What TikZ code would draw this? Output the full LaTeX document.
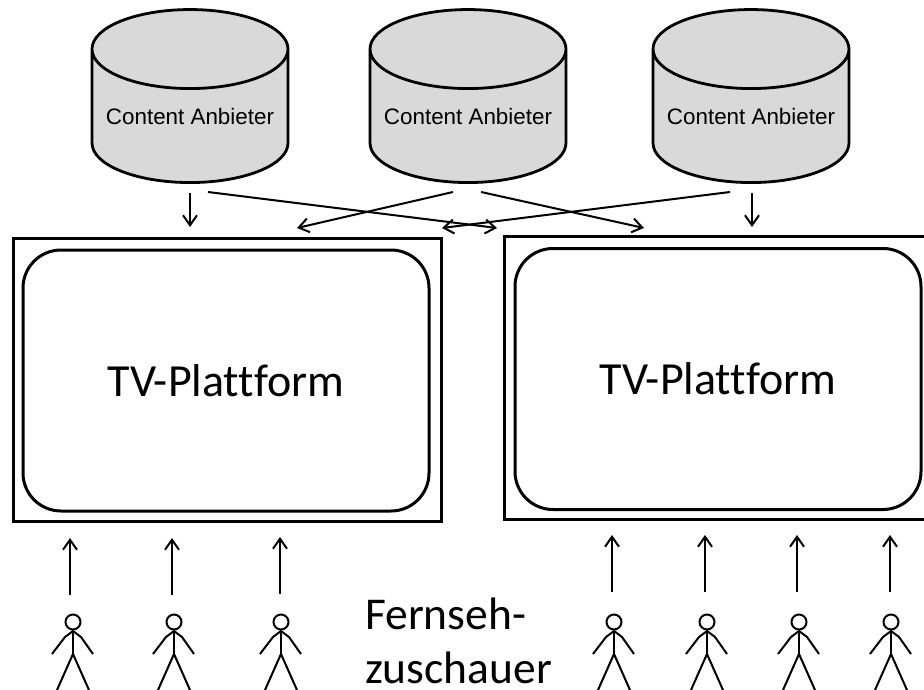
\documentclass[tikz,border=0pt]{standalone}
\usepackage{fontspec}
\setmainfont[Ligatures=CommonOff]{Carlito}
\newfontfamily\labelfont{Liberation Sans}
\usetikzlibrary{shapes.geometric, arrows.meta}
\definecolor{storegray}{gray}{0.85}
\tikzset{
	store/.style={draw, line width=2.8pt, fill=storegray, cylinder, shape border rotate=90, aspect=0.47, minimum width=196pt, minimum height=173pt, inner sep=0pt, font=\labelfont\fontsize{22.4}{26}\selectfont},
	screen/.style={draw, line width=3pt, minimum width=428pt, minimum height=283pt},
	panel/.style={draw, line width=3pt, rounded corners=38pt, minimum width=406pt, minimum height=261pt, font=\fontsize{46}{50}\selectfont},
	flow/.style={->, >={Straight Barb[length=10pt,width=14pt,line width=2pt]}, line width=2pt},
	limb/.style={line width=2pt},
}
\begin{document}
\begin{tikzpicture}[x=1pt, y=-1pt]
	\useasboundingbox (0,0) rectangle (924,690);

	\node[store] (storeA) at (190,116.5) {Content Anbieter};
	\node[store] (storeB) at (468,116.5) {Content Anbieter};
	\node[store] (storeC) at (751,116.5) {Content Anbieter};

	\node[screen] (screenL) at (227,379.5) {};
	\node[screen] (screenR) at (718,377.5) {};
	\node[panel] (panelL) at (226,380.5) {TV-Plattform};
	\node[panel] (panelR) at (718,379) {TV-Plattform};

	% free ends of the arrows below the stores
	\coordinate (a1) at (190,193);
	\coordinate (b1) at (190,227);
	\coordinate (a2) at (208,192);
	\coordinate (b2) at (497,228);
	\coordinate (a3) at (453,192);
	\coordinate (b3) at (297,228);
	\coordinate (a4) at (481,192);
	\coordinate (b4) at (644,228);
	\coordinate (a5) at (730,192);
	\coordinate (b5) at (442,228);
	\coordinate (a6) at (752,193);
	\coordinate (b6) at (752,227);
	\foreach \n in {1,...,6}
		\draw[flow] (a\n) -- (b\n);

	% viewers
	\foreach \n/\x/\y/\t in {1/70/73/538, 2/172/174/538, 3/280/281/537, 4/612/614/535, 5/705/707/535, 6/797/799/535, 7/890/891/535} {
		\coordinate (c\n) at (\x,\t+57);
		\coordinate (d\n) at (\x,\t);
		\draw[flow] (c\n) -- (d\n);
		\node[draw, circle, line width=2pt, minimum size=15pt, inner sep=0pt] (head\n) at (\y,622) {};
		\coordinate (hip\n) at (\y,654);
		\draw[limb] (head\n.south) -- (hip\n);
		\draw[limb] (\y-21,654) -- (\y-8,637) -- (\y,631) -- (\y+8,637) -- (\y+20,654);
		\draw[limb] (\y-16,690) -- (hip\n) -- (\y+16,690);
	}

	\node[align=left, anchor=south west, inner sep=0pt, font=\fontsize{45.5}{54}\selectfont] (viewers) at (365,684) {Fernseh-\\zuschauer};
\end{tikzpicture}
\end{document}
